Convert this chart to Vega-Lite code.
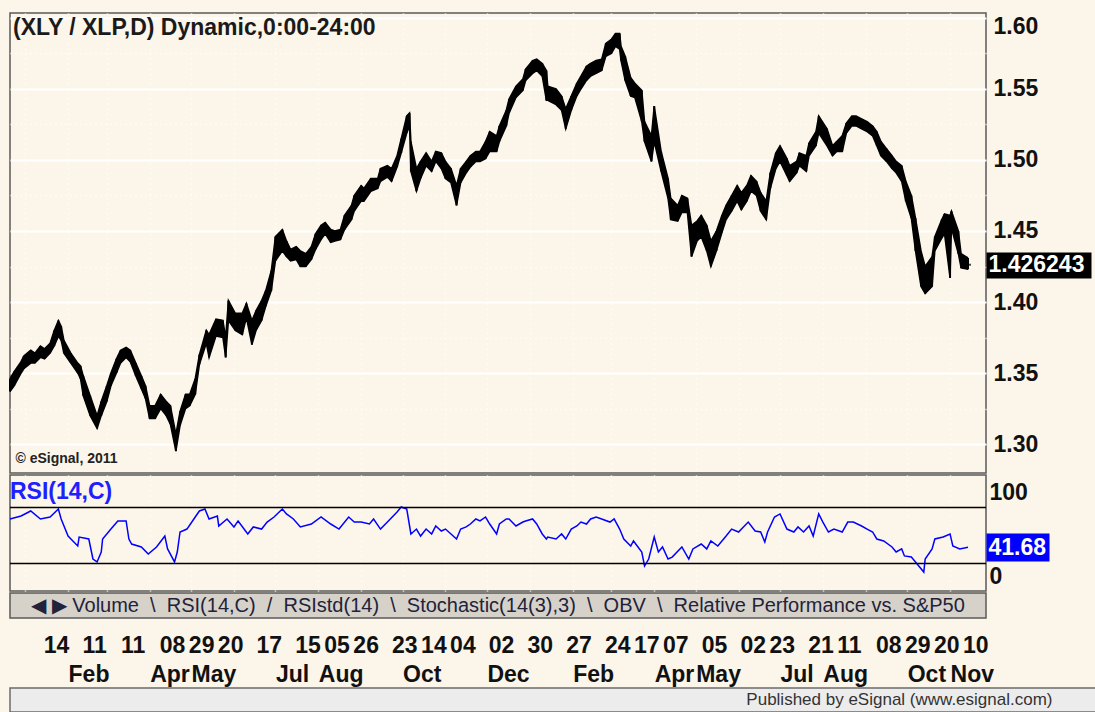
{
  "$schema": "https://vega.github.io/schema/vega-lite/v6.json",
  "background": "#fcf5e9",
  "padding": {"left": 6, "top": 12, "right": 0, "bottom": 0},
  "config": {
    "font": "Liberation Sans",
    "view": {"stroke": "#5a5a5a", "strokeWidth": 1.5, "fill": "#fcf5e9"},
    "concat": {"spacing": 0},
    "axis": {"labelFont": "Liberation Sans", "labelFontWeight": "bold", "labelFontSize": 23, "labelColor": "#111111", "titleFont": "Liberation Sans"}
  },
  "resolve": {"scale": {"x": "independent", "y": "independent"}},
  "datasets": {
    "price": [
      {"d":"2009-12-21","h":1.346,"l":1.337},{"d":"2009-12-24","h":1.351,"l":1.341},{"d":"2009-12-29","h":1.358,"l":1.350},{"d":"2009-12-31","h":1.362,"l":1.353},
      {"d":"2010-01-05","h":1.366,"l":1.357},{"d":"2010-01-08","h":1.364,"l":1.357},{"d":"2010-01-12","h":1.369,"l":1.361},{"d":"2010-01-15","h":1.367,"l":1.360},
      {"d":"2010-01-19","h":1.371,"l":1.364},{"d":"2010-01-22","h":1.380,"l":1.369},{"d":"2010-01-25","h":1.387,"l":1.376},{"d":"2010-01-27","h":1.383,"l":1.373},
      {"d":"2010-01-29","h":1.373,"l":1.364},{"d":"2010-02-03","h":1.364,"l":1.357},{"d":"2010-02-08","h":1.357,"l":1.350},{"d":"2010-02-10","h":1.355,"l":1.346},
      {"d":"2010-02-12","h":1.348,"l":1.334},{"d":"2010-02-17","h":1.334,"l":1.320},{"d":"2010-02-22","h":1.320,"l":1.311},{"d":"2010-02-25","h":1.330,"l":1.320},
      {"d":"2010-03-01","h":1.341,"l":1.330},{"d":"2010-03-04","h":1.350,"l":1.341},{"d":"2010-03-08","h":1.360,"l":1.350},{"d":"2010-03-11","h":1.366,"l":1.357},
      {"d":"2010-03-15","h":1.368,"l":1.361},{"d":"2010-03-18","h":1.366,"l":1.358},{"d":"2010-03-22","h":1.357,"l":1.348},{"d":"2010-03-26","h":1.348,"l":1.339},
      {"d":"2010-03-29","h":1.341,"l":1.332},{"d":"2010-04-01","h":1.327,"l":1.318},{"d":"2010-04-05","h":1.327,"l":1.318},{"d":"2010-04-09","h":1.335,"l":1.325},
      {"d":"2010-04-13","h":1.330,"l":1.320},{"d":"2010-04-16","h":1.327,"l":1.314},{"d":"2010-04-20","h":1.307,"l":1.295},{"d":"2010-04-23","h":1.323,"l":1.313},
      {"d":"2010-04-27","h":1.335,"l":1.325},{"d":"2010-04-30","h":1.335,"l":1.327},{"d":"2010-05-04","h":1.346,"l":1.335},{"d":"2010-05-07","h":1.363,"l":1.356},
      {"d":"2010-05-12","h":1.380,"l":1.371},{"d":"2010-05-14","h":1.377,"l":1.361},{"d":"2010-05-19","h":1.388,"l":1.376},{"d":"2010-05-24","h":1.387,"l":1.375},
      {"d":"2010-05-26","h":1.375,"l":1.361},{"d":"2010-05-28","h":1.401,"l":1.387},{"d":"2010-06-02","h":1.392,"l":1.380},{"d":"2010-06-07","h":1.392,"l":1.377},
      {"d":"2010-06-10","h":1.399,"l":1.389},{"d":"2010-06-14","h":1.387,"l":1.370},{"d":"2010-06-17","h":1.394,"l":1.380},{"d":"2010-06-21","h":1.401,"l":1.387},
      {"d":"2010-06-24","h":1.408,"l":1.397},{"d":"2010-06-28","h":1.422,"l":1.408},{"d":"2010-07-01","h":1.446,"l":1.429},{"d":"2010-07-06","h":1.451,"l":1.436},
      {"d":"2010-07-09","h":1.443,"l":1.432},{"d":"2010-07-12","h":1.437,"l":1.429},{"d":"2010-07-16","h":1.439,"l":1.430},{"d":"2010-07-19","h":1.436,"l":1.425},
      {"d":"2010-07-23","h":1.434,"l":1.425},{"d":"2010-07-27","h":1.439,"l":1.430},{"d":"2010-07-30","h":1.448,"l":1.437},{"d":"2010-08-03","h":1.454,"l":1.444},
      {"d":"2010-08-06","h":1.456,"l":1.448},{"d":"2010-08-10","h":1.451,"l":1.442},{"d":"2010-08-13","h":1.450,"l":1.443},{"d":"2010-08-17","h":1.451,"l":1.444},
      {"d":"2010-08-20","h":1.461,"l":1.451},{"d":"2010-08-25","h":1.468,"l":1.458},{"d":"2010-08-27","h":1.475,"l":1.464},{"d":"2010-09-01","h":1.482,"l":1.471},
      {"d":"2010-09-03","h":1.480,"l":1.471},{"d":"2010-09-08","h":1.487,"l":1.478},{"d":"2010-09-13","h":1.487,"l":1.480},{"d":"2010-09-15","h":1.494,"l":1.485},
      {"d":"2010-09-20","h":1.496,"l":1.488},{"d":"2010-09-23","h":1.494,"l":1.485},{"d":"2010-09-27","h":1.503,"l":1.495},{"d":"2010-09-30","h":1.515,"l":1.505},
      {"d":"2010-10-04","h":1.531,"l":1.519},{"d":"2010-10-06","h":1.533,"l":1.524},{"d":"2010-10-07","h":1.513,"l":1.492},{"d":"2010-10-11","h":1.494,"l":1.478},
      {"d":"2010-10-14","h":1.499,"l":1.487},{"d":"2010-10-18","h":1.505,"l":1.496},{"d":"2010-10-22","h":1.499,"l":1.492},{"d":"2010-10-25","h":1.506,"l":1.499},
      {"d":"2010-10-29","h":1.505,"l":1.494},{"d":"2010-11-01","h":1.499,"l":1.487},{"d":"2010-11-05","h":1.494,"l":1.484},{"d":"2010-11-09","h":1.482,"l":1.468},
      {"d":"2010-11-12","h":1.494,"l":1.484},{"d":"2010-11-16","h":1.499,"l":1.491},{"d":"2010-11-19","h":1.503,"l":1.495},{"d":"2010-11-23","h":1.506,"l":1.499},
      {"d":"2010-11-26","h":1.506,"l":1.499},{"d":"2010-11-30","h":1.513,"l":1.501},{"d":"2010-12-03","h":1.520,"l":1.506},{"d":"2010-12-08","h":1.517,"l":1.506},
      {"d":"2010-12-10","h":1.524,"l":1.513},{"d":"2010-12-15","h":1.535,"l":1.524},{"d":"2010-12-17","h":1.543,"l":1.533},{"d":"2010-12-22","h":1.552,"l":1.544},
      {"d":"2010-12-27","h":1.557,"l":1.549},{"d":"2010-12-29","h":1.564,"l":1.556},{"d":"2011-01-03","h":1.570,"l":1.561},{"d":"2011-01-06","h":1.571,"l":1.563},
      {"d":"2011-01-10","h":1.568,"l":1.559},{"d":"2011-01-13","h":1.563,"l":1.542},{"d":"2011-01-14","h":1.552,"l":1.542},{"d":"2011-01-20","h":1.550,"l":1.539},
      {"d":"2011-01-24","h":1.545,"l":1.535},{"d":"2011-01-27","h":1.536,"l":1.522},{"d":"2011-01-31","h":1.545,"l":1.535},{"d":"2011-02-04","h":1.554,"l":1.545},
      {"d":"2011-02-07","h":1.559,"l":1.550},{"d":"2011-02-11","h":1.566,"l":1.556},{"d":"2011-02-14","h":1.568,"l":1.559},{"d":"2011-02-18","h":1.570,"l":1.561},
      {"d":"2011-02-22","h":1.571,"l":1.563},{"d":"2011-02-25","h":1.582,"l":1.573},{"d":"2011-03-01","h":1.585,"l":1.575},{"d":"2011-03-04","h":1.589,"l":1.580},
      {"d":"2011-03-07","h":1.589,"l":1.578},{"d":"2011-03-08","h":1.580,"l":1.570},{"d":"2011-03-11","h":1.573,"l":1.556},{"d":"2011-03-15","h":1.558,"l":1.545},
      {"d":"2011-03-18","h":1.554,"l":1.544},{"d":"2011-03-23","h":1.549,"l":1.527},{"d":"2011-03-25","h":1.527,"l":1.513},{"d":"2011-03-30","h":1.517,"l":1.499},
      {"d":"2011-04-01","h":1.538,"l":1.513},{"d":"2011-04-06","h":1.506,"l":1.492},{"d":"2011-04-11","h":1.487,"l":1.473},{"d":"2011-04-13","h":1.473,"l":1.458},
      {"d":"2011-04-18","h":1.468,"l":1.457},{"d":"2011-04-21","h":1.475,"l":1.463},{"d":"2011-04-25","h":1.473,"l":1.463},{"d":"2011-04-28","h":1.454,"l":1.432},
      {"d":"2011-05-02","h":1.457,"l":1.443},{"d":"2011-05-05","h":1.461,"l":1.446},{"d":"2011-05-09","h":1.454,"l":1.436},{"d":"2011-05-12","h":1.443,"l":1.425},
      {"d":"2011-05-16","h":1.450,"l":1.436},{"d":"2011-05-20","h":1.461,"l":1.449},{"d":"2011-05-23","h":1.468,"l":1.458},{"d":"2011-05-27","h":1.475,"l":1.464},
      {"d":"2011-05-31","h":1.482,"l":1.471},{"d":"2011-06-03","h":1.477,"l":1.465},{"d":"2011-06-07","h":1.482,"l":1.471},{"d":"2011-06-10","h":1.489,"l":1.478},
      {"d":"2011-06-14","h":1.485,"l":1.475},{"d":"2011-06-17","h":1.477,"l":1.464},{"d":"2011-06-21","h":1.471,"l":1.458},{"d":"2011-06-24","h":1.491,"l":1.480},
      {"d":"2011-06-28","h":1.505,"l":1.494},{"d":"2011-07-01","h":1.510,"l":1.499},{"d":"2011-07-06","h":1.501,"l":1.489},{"d":"2011-07-08","h":1.496,"l":1.485},
      {"d":"2011-07-13","h":1.499,"l":1.491},{"d":"2011-07-15","h":1.505,"l":1.496},{"d":"2011-07-20","h":1.503,"l":1.492},{"d":"2011-07-22","h":1.512,"l":1.503},
      {"d":"2011-07-27","h":1.520,"l":1.510},{"d":"2011-07-29","h":1.531,"l":1.519},{"d":"2011-08-04","h":1.522,"l":1.510},{"d":"2011-08-08","h":1.510,"l":1.503},
      {"d":"2011-08-11","h":1.513,"l":1.506},{"d":"2011-08-15","h":1.517,"l":1.506},{"d":"2011-08-18","h":1.526,"l":1.519},{"d":"2011-08-22","h":1.531,"l":1.524},
      {"d":"2011-08-25","h":1.531,"l":1.524},{"d":"2011-08-29","h":1.529,"l":1.522},{"d":"2011-09-02","h":1.527,"l":1.520},{"d":"2011-09-06","h":1.524,"l":1.517},
      {"d":"2011-09-09","h":1.520,"l":1.510},{"d":"2011-09-12","h":1.513,"l":1.503},{"d":"2011-09-16","h":1.508,"l":1.499},{"d":"2011-09-20","h":1.503,"l":1.494},
      {"d":"2011-09-23","h":1.499,"l":1.491},{"d":"2011-09-27","h":1.496,"l":1.485},{"d":"2011-09-30","h":1.485,"l":1.471},{"d":"2011-10-04","h":1.475,"l":1.459},
      {"d":"2011-10-07","h":1.459,"l":1.436},{"d":"2011-10-11","h":1.436,"l":1.411},{"d":"2011-10-14","h":1.425,"l":1.406},{"d":"2011-10-19","h":1.432,"l":1.411},
      {"d":"2011-10-21","h":1.446,"l":1.436},{"d":"2011-10-26","h":1.458,"l":1.445},{"d":"2011-10-28","h":1.462,"l":1.448},{"d":"2011-11-01","h":1.461,"l":1.417},
      {"d":"2011-11-02","h":1.464,"l":1.452},{"d":"2011-11-07","h":1.450,"l":1.434},{"d":"2011-11-09","h":1.434,"l":1.424},{"d":"2011-11-14","h":1.431,"l":1.423}
    ],
    "rsi": [
      {"d":"2009-12-21","r":61.8},{"d":"2009-12-29","r":63.9},{"d":"2010-01-05","r":67.5},{"d":"2010-01-12","r":61.8},{"d":"2010-01-19","r":63.2},{"d":"2010-01-25","r":68.9},
      {"d":"2010-01-27","r":61.8},{"d":"2010-02-01","r":49.6},{"d":"2010-02-08","r":42.5},{"d":"2010-02-09","r":48.9},{"d":"2010-02-16","r":47.5},{"d":"2010-02-19","r":33.2},
      {"d":"2010-02-22","r":31.1},{"d":"2010-02-25","r":38.2},{"d":"2010-02-26","r":47.5},{"d":"2010-03-04","r":54.6},{"d":"2010-03-09","r":60.4},{"d":"2010-03-15","r":60.4},
      {"d":"2010-03-17","r":47.5},{"d":"2010-03-19","r":43.9},{"d":"2010-03-26","r":41.8},{"d":"2010-03-31","r":36.8},{"d":"2010-04-06","r":41.8},{"d":"2010-04-12","r":49.6},
      {"d":"2010-04-14","r":40.4},{"d":"2010-04-19","r":31.1},{"d":"2010-04-21","r":38.2},{"d":"2010-04-23","r":52.5},{"d":"2010-04-28","r":54.6},{"d":"2010-05-03","r":61.8},
      {"d":"2010-05-07","r":67.5},{"d":"2010-05-11","r":68.9},{"d":"2010-05-14","r":61.8},{"d":"2010-05-20","r":63.9},{"d":"2010-05-21","r":56.8},{"d":"2010-05-27","r":61.8},
      {"d":"2010-06-01","r":56.1},{"d":"2010-06-04","r":60.4},{"d":"2010-06-11","r":51.1},{"d":"2010-06-15","r":56.1},{"d":"2010-06-21","r":54.6},{"d":"2010-06-25","r":59.6},
      {"d":"2010-06-30","r":63.2},{"d":"2010-07-06","r":68.9},{"d":"2010-07-09","r":65.4},{"d":"2010-07-14","r":61.8},{"d":"2010-07-19","r":56.1},{"d":"2010-07-27","r":58.2},
      {"d":"2010-08-03","r":63.2},{"d":"2010-08-10","r":58.2},{"d":"2010-08-16","r":54.6},{"d":"2010-08-23","r":63.2},{"d":"2010-08-27","r":59.6},{"d":"2010-09-01","r":59.6},
      {"d":"2010-09-07","r":58.2},{"d":"2010-09-10","r":61.8},{"d":"2010-09-15","r":54.6},{"d":"2010-09-20","r":59.6},{"d":"2010-09-27","r":66.8},{"d":"2010-09-30","r":70.4},
      {"d":"2010-10-04","r":68.9},{"d":"2010-10-07","r":51.1},{"d":"2010-10-11","r":54.6},{"d":"2010-10-14","r":49.6},{"d":"2010-10-18","r":54.6},{"d":"2010-10-22","r":51.1},
      {"d":"2010-10-25","r":56.8},{"d":"2010-10-29","r":53.2},{"d":"2010-11-01","r":54.6},{"d":"2010-11-05","r":51.1},{"d":"2010-11-09","r":47.5},{"d":"2010-11-12","r":54.6},
      {"d":"2010-11-16","r":56.1},{"d":"2010-11-19","r":58.2},{"d":"2010-11-23","r":61.8},{"d":"2010-11-26","r":60.4},{"d":"2010-11-30","r":63.2},{"d":"2010-12-03","r":58.2},
      {"d":"2010-12-08","r":51.1},{"d":"2010-12-10","r":58.2},{"d":"2010-12-15","r":61.8},{"d":"2010-12-17","r":61.8},{"d":"2010-12-22","r":56.8},{"d":"2010-12-27","r":59.6},
      {"d":"2010-12-29","r":60.4},{"d":"2011-01-03","r":61.8},{"d":"2011-01-06","r":58.2},{"d":"2011-01-10","r":51.1},{"d":"2011-01-13","r":47.5},{"d":"2011-01-14","r":48.9},
      {"d":"2011-01-20","r":47.5},{"d":"2011-01-24","r":51.1},{"d":"2011-01-27","r":47.5},{"d":"2011-01-31","r":54.6},{"d":"2011-02-04","r":56.8},{"d":"2011-02-07","r":59.6},
      {"d":"2011-02-11","r":58.2},{"d":"2011-02-14","r":61.8},{"d":"2011-02-18","r":63.2},{"d":"2011-02-22","r":61.8},{"d":"2011-02-28","r":59.6},{"d":"2011-03-03","r":61.8},
      {"d":"2011-03-07","r":54.6},{"d":"2011-03-10","r":47.5},{"d":"2011-03-15","r":42.5},{"d":"2011-03-17","r":46.1},{"d":"2011-03-23","r":38.2},{"d":"2011-03-25","r":28.2},
      {"d":"2011-03-28","r":33.2},{"d":"2011-04-01","r":48.9},{"d":"2011-04-04","r":38.2},{"d":"2011-04-07","r":41.8},{"d":"2011-04-11","r":33.2},{"d":"2011-04-14","r":34.6},
      {"d":"2011-04-21","r":41.8},{"d":"2011-04-26","r":33.2},{"d":"2011-04-29","r":40.4},{"d":"2011-05-05","r":43.9},{"d":"2011-05-09","r":40.4},{"d":"2011-05-12","r":46.1},
      {"d":"2011-05-17","r":42.5},{"d":"2011-05-23","r":49.6},{"d":"2011-05-27","r":54.6},{"d":"2011-06-01","r":52.5},{"d":"2011-06-08","r":59.6},{"d":"2011-06-13","r":53.2},
      {"d":"2011-06-17","r":52.5},{"d":"2011-06-20","r":45.4},{"d":"2011-06-22","r":52.5},{"d":"2011-06-27","r":63.2},{"d":"2011-07-01","r":65.4},{"d":"2011-07-06","r":54.6},
      {"d":"2011-07-11","r":52.5},{"d":"2011-07-14","r":56.1},{"d":"2011-07-18","r":52.5},{"d":"2011-07-22","r":56.8},{"d":"2011-07-25","r":49.6},{"d":"2011-07-29","r":65.4},
      {"d":"2011-08-01","r":59.6},{"d":"2011-08-05","r":52.5},{"d":"2011-08-09","r":54.6},{"d":"2011-08-15","r":52.5},{"d":"2011-08-19","r":59.6},{"d":"2011-08-23","r":59.6},
      {"d":"2011-08-29","r":56.8},{"d":"2011-09-02","r":54.6},{"d":"2011-09-06","r":52.5},{"d":"2011-09-09","r":47.5},{"d":"2011-09-14","r":46.1},{"d":"2011-09-20","r":41.8},
      {"d":"2011-09-23","r":38.2},{"d":"2011-09-27","r":40.4},{"d":"2011-09-29","r":35.4},{"d":"2011-10-04","r":34.6},{"d":"2011-10-07","r":31.1},{"d":"2011-10-13","r":23.9},
      {"d":"2011-10-14","r":33.2},{"d":"2011-10-19","r":40.4},{"d":"2011-10-21","r":47.5},{"d":"2011-10-27","r":48.9},{"d":"2011-11-01","r":51.1},{"d":"2011-11-03","r":42.5},
      {"d":"2011-11-08","r":40.4},{"d":"2011-11-14","r":41.68}
    ]
  },
  "vconcat": [
    {
      "width": 976,
      "height": 460,
      "title": {"text": "(XLY / XLP,D) Dynamic,0:00-24:00", "anchor": "start", "frame": "group", "offset": -27, "dx": 3, "fontSize": 23, "fontWeight": "bold", "color": "#1a1a1a", "font": "Liberation Sans"},
      "data": {"name": "price"},
      "encoding": {
        "x": {
          "field": "d", "type": "temporal",
          "scale": {"type": "utc", "domain": [{"year": 2009, "month": 12, "date": 21, "utc": true}, {"year": 2011, "month": 11, "date": 27, "utc": true}]},
          "axis": {"labels": false, "ticks": false, "domain": false, "grid": true, "gridColor": "#ffffff", "gridDash": [1, 4], "gridWidth": 1.5,
                   "tickCount": {"interval": "month", "step": 1},
                   "title": "© eSignal, 2011", "titleAnchor": "start", "titleAlign": "left", "titleBaseline": "alphabetic", "titleX": 5, "titleY": -11,
                   "titleFontSize": 14, "titleFontWeight": "bold", "titleColor": "#222222"}
        }
      },
      "layer": [
        {
          "mark": {"type": "line", "color": "#000000", "strokeWidth": 1.5},
          "encoding": {
            "y": {"field": "h", "type": "quantitative", "scale": {"domain": [1.2796, 1.6035], "nice": false, "zero": false},
                  "axis": {"orient": "left", "values": [1.275, 1.325, 1.375, 1.425, 1.475, 1.525, 1.575], "labels": false, "ticks": false, "domain": false,
                           "grid": true, "gridColor": "#ffffff", "gridDash": [1, 4], "gridWidth": 1.5, "title": null}}
          }
        },
        {
          "mark": {"type": "area", "color": "#000000", "opacity": 1},
          "encoding": {
            "y": {"field": "l", "type": "quantitative", "scale": {"domain": [1.2796, 1.6035], "nice": false, "zero": false},
                  "axis": {"orient": "right", "values": [1.3, 1.35, 1.4, 1.45, 1.5, 1.55, 1.6], "format": ".2f", "ticks": false, "domain": false, "labelPadding": 7,
                           "grid": true, "gridColor": "#ffffff", "gridWidth": 2, "title": null,
                           "labelOffset": {"condition": {"test": "datum.value > 1.59", "value": 9}, "value": 0}}},
            "y2": {"field": "h"}
          }
        },
        {
          "mark": {"type": "rule", "color": "#000000", "strokeWidth": 2},
          "encoding": {"y": {"field": "l", "type": "quantitative", "axis": null}, "y2": {"field": "h"}}
        },
        {
          "mark": {"type": "line", "color": "#000000", "strokeWidth": 1.5},
          "encoding": {"y": {"field": "l", "type": "quantitative", "axis": null}}
        },
        {
          "data": {"values": [{"d": "2011-11-14", "c": 1.426243}]},
          "mark": {"type": "tick", "orient": "horizontal", "color": "#000000", "thickness": 2, "size": 6},
          "encoding": {
            "y": {"field": "c", "type": "quantitative",
                  "axis": {"orient": "right", "values": [1.426243], "format": ".6f", "grid": false, "domain": false, "ticks": true, "tickSize": 105, "tickWidth": 26,
                           "tickColor": "#000000", "tickCap": "butt", "labelPadding": -103, "labelColor": "#ffffff", "labelAlign": "left", "title": null}}
          }
        }
      ],
      "resolve": {"axis": {"y": "independent"}}
    },
    {
      "width": 976,
      "height": 116,
      "title": {"text": "RSI(14,C)", "anchor": "start", "frame": "group", "offset": -29, "dx": 0, "fontSize": 23, "fontWeight": "bold", "color": "#2020ff", "font": "Liberation Sans"},
      "layer": [
        {
          "data": {"name": "rsi"},
          "mark": {"type": "line", "color": "#0000ff", "strokeWidth": 1.5},
          "encoding": {
            "x": {"field": "d", "type": "temporal",
                  "scale": {"type": "utc", "domain": [{"year": 2009, "month": 12, "date": 21, "utc": true}, {"year": 2011, "month": 11, "date": 27, "utc": true}]},
                  "axis": {"labels": false, "ticks": false, "domain": false, "grid": true, "gridColor": "#ffffff", "gridDash": [1, 4], "gridWidth": 1.5,
                           "tickCount": {"interval": "month", "step": 1}, "title": null}},
            "y": {"field": "r", "type": "quantitative", "scale": {"domain": [10.36, 93.2], "nice": false, "zero": false},
                  "axis": {"orient": "right", "values": [80.4, 20.7], "labelExpr": "datum.value > 50 ? '100' : '0'", "ticks": false, "domain": false, "grid": false,
                           "labelPadding": 3, "title": null}}
          }
        },
        {
          "data": {"values": [{"level": 70}, {"level": 30}]},
          "mark": {"type": "rule", "color": "#000000", "strokeWidth": 1.5},
          "encoding": {
            "y": {"field": "level", "type": "quantitative", "scale": {"domain": [10.36, 93.2], "nice": false, "zero": false},
                  "axis": {"orient": "right", "values": [41.68], "format": ".2f", "ticks": true, "tickSize": 63, "tickWidth": 28, "tickColor": "#0000ff", "tickCap": "butt",
                           "labelPadding": -61, "labelColor": "#ffffff", "labelAlign": "left", "domain": false, "grid": false, "title": null}}
          }
        }
      ],
      "resolve": {"axis": {"y": "independent"}}
    },
    {
      "width": 976,
      "height": 25,
      "view": {"fill": "#d6d2ca", "stroke": "#5a5a5a", "strokeWidth": 1.5},
      "layer": [
        {
          "data": {"values": [{"tabs": "◀ ▶  Volume \u00a0\\\u00a0 RSI(14,C) \u00a0/\u00a0 RSIstd(14) \u00a0\\\u00a0 Stochastic(14(3),3) \u00a0\\\u00a0 OBV \u00a0\\\u00a0 Relative Performance vs. S&P50"}]},
          "mark": {"type": "text", "font": "Liberation Sans", "fontSize": 20, "color": "#22223a", "align": "center", "baseline": "middle"},
          "encoding": {"text": {"field": "tabs"}}
        },
        {
          "data": {"values": [{"t": "2010-01-14", "v": 0}, {"t": "2011-11-10", "v": 0}]},
          "mark": {"type": "tick", "opacity": 0},
          "encoding": {
            "y": {"field": "v", "type": "quantitative", "scale": {"domain": [0, 1]}, "axis": null},
            "x": {"field": "t", "type": "temporal",
                  "scale": {"type": "utc", "domain": [{"year": 2009, "month": 12, "date": 21, "utc": true}, {"year": 2011, "month": 11, "date": 27, "utc": true}]},
                  "axis": {"orient": "bottom", "format": "%d", "labelAlign": "left", "labelBaseline": "alphabetic", "labelPadding": 34, "ticks": false, "domain": false,
                           "grid": false, "labelOverlap": false, "labelFlush": false, "title": null,
                           "values": [
                             {"year": 2010, "month": 1, "date": 14, "utc": true}, {"year": 2010, "month": 2, "date": 11, "utc": true}, {"year": 2010, "month": 3, "date": 11, "utc": true},
                             {"year": 2010, "month": 4, "date": 8, "utc": true}, {"year": 2010, "month": 4, "date": 29, "utc": true}, {"year": 2010, "month": 5, "date": 20, "utc": true},
                             {"year": 2010, "month": 6, "date": 17, "utc": true}, {"year": 2010, "month": 7, "date": 15, "utc": true}, {"year": 2010, "month": 8, "date": 5, "utc": true},
                             {"year": 2010, "month": 8, "date": 26, "utc": true}, {"year": 2010, "month": 9, "date": 23, "utc": true}, {"year": 2010, "month": 10, "date": 14, "utc": true},
                             {"year": 2010, "month": 11, "date": 4, "utc": true}, {"year": 2010, "month": 12, "date": 2, "utc": true}, {"year": 2010, "month": 12, "date": 30, "utc": true},
                             {"year": 2011, "month": 1, "date": 27, "utc": true}, {"year": 2011, "month": 2, "date": 24, "utc": true}, {"year": 2011, "month": 3, "date": 17, "utc": true},
                             {"year": 2011, "month": 4, "date": 7, "utc": true}, {"year": 2011, "month": 5, "date": 5, "utc": true}, {"year": 2011, "month": 6, "date": 2, "utc": true},
                             {"year": 2011, "month": 6, "date": 23, "utc": true}, {"year": 2011, "month": 7, "date": 21, "utc": true}, {"year": 2011, "month": 8, "date": 11, "utc": true},
                             {"year": 2011, "month": 9, "date": 8, "utc": true}, {"year": 2011, "month": 9, "date": 29, "utc": true}, {"year": 2011, "month": 10, "date": 20, "utc": true},
                             {"year": 2011, "month": 11, "date": 10, "utc": true}
                           ]}}
          }
        },
        {
          "data": {"values": [{"t": "2010-02-01", "v": 0}, {"t": "2011-11-01", "v": 0}]},
          "mark": {"type": "tick", "opacity": 0},
          "encoding": {
            "y": {"field": "v", "type": "quantitative", "scale": {"domain": [0, 1]}, "axis": null},
            "x": {"field": "t", "type": "temporal",
                  "scale": {"type": "utc", "domain": [{"year": 2009, "month": 12, "date": 21, "utc": true}, {"year": 2011, "month": 11, "date": 27, "utc": true}]},
                  "axis": {"orient": "bottom", "format": "%b", "labelAlign": "left", "labelBaseline": "alphabetic", "labelPadding": 63, "ticks": false, "domain": false,
                           "grid": false, "labelOverlap": false, "labelFlush": false, "title": null,
                           "values": [
                             {"year": 2010, "month": 2, "date": 1, "utc": true}, {"year": 2010, "month": 4, "date": 1, "utc": true}, {"year": 2010, "month": 5, "date": 1, "utc": true},
                             {"year": 2010, "month": 7, "date": 1, "utc": true}, {"year": 2010, "month": 8, "date": 1, "utc": true}, {"year": 2010, "month": 10, "date": 1, "utc": true},
                             {"year": 2010, "month": 12, "date": 1, "utc": true}, {"year": 2011, "month": 2, "date": 1, "utc": true}, {"year": 2011, "month": 4, "date": 1, "utc": true},
                             {"year": 2011, "month": 5, "date": 1, "utc": true}, {"year": 2011, "month": 7, "date": 1, "utc": true}, {"year": 2011, "month": 8, "date": 1, "utc": true},
                             {"year": 2011, "month": 10, "date": 1, "utc": true}, {"year": 2011, "month": 11, "date": 1, "utc": true}
                           ]}}
          }
        }
      ],
      "resolve": {"axis": {"x": "independent"}}
    },
    {
      "width": 1089,
      "height": 24,
      "view": {"fill": "#ececec", "stroke": "#6b6b6b", "strokeWidth": 1.5},
      "data": {"values": [{"t": "Published by eSignal (www.esignal.com)"}]},
      "mark": {"type": "text", "font": "Liberation Sans", "fontSize": 17, "color": "#333333", "align": "right", "baseline": "middle", "dx": 498},
      "encoding": {"text": {"field": "t"}}
    }
  ]
}
